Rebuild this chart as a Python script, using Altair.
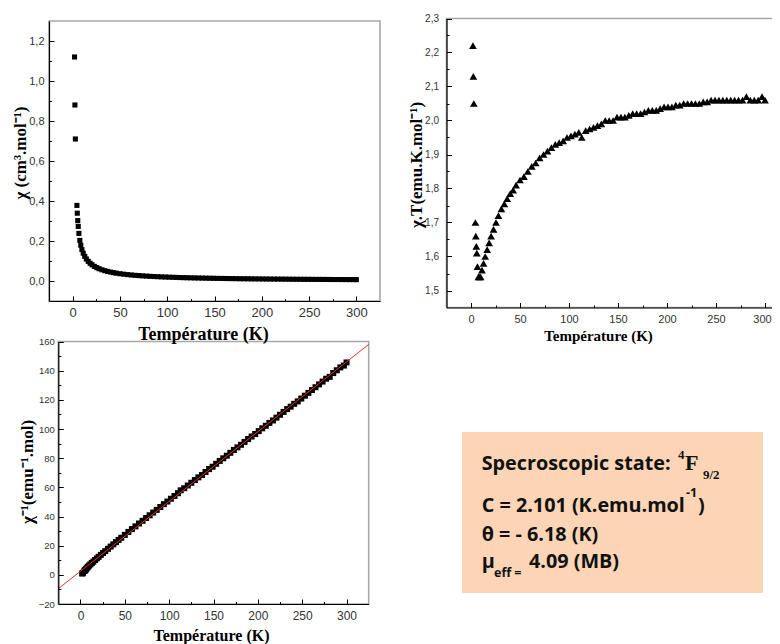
import altair as alt
import pandas as pd

W, H = 764, 636

# ---------------- data ----------------
temperature = [2.0, 2.4, 2.9, 4.5, 4.9, 5.4, 5.9, 6.6, 7.6, 8.6,
               9.8, 11.2, 12.8, 14.5, 16.5, 18.5, 20.5, 23, 25.5, 28,
               31, 34, 37, 40, 43, 46, 50, 54, 58, 62,
               66, 70, 74, 78, 82, 86, 90, 94, 98, 102,
               106, 110, 113, 117, 121, 125, 129, 133, 137, 141,
               145, 149, 153, 157, 161, 165, 169, 173, 177, 181,
               185, 189, 193, 197, 201, 205, 209, 213, 217, 221,
               225, 229, 233, 237, 241, 245, 249, 253, 257, 261,
               265, 269, 273, 277, 281, 285, 289, 293, 297, 300]

chi = [1.12, 0.88, 0.71, 0.378, 0.339, 0.302, 0.273, 0.238, 0.203, 0.179,
       0.157, 0.139, 0.123, 0.110, 0.0982, 0.0886, 0.0810, 0.0730, 0.0667, 0.0614,
       0.0561, 0.0516, 0.0478, 0.0446, 0.0417, 0.0393, 0.0365, 0.0340, 0.0319, 0.0301,
       0.0284, 0.0270, 0.0257, 0.0245, 0.0234, 0.0224, 0.0215, 0.0206, 0.0199, 0.0192,
       0.0185, 0.0179, 0.0173, 0.0168, 0.0163, 0.0158, 0.0154, 0.0150, 0.0146, 0.0142,
       0.0138, 0.0135, 0.0131, 0.0128, 0.0125, 0.0122, 0.0120, 0.0117, 0.0114, 0.0112,
       0.0110, 0.0107, 0.0105, 0.0104, 0.0101, 0.0100, 0.0098, 0.0096, 0.0094, 0.0093,
       0.0091, 0.0090, 0.0088, 0.0087, 0.0085, 0.0084, 0.0083, 0.0081, 0.0080, 0.0079,
       0.0078, 0.0077, 0.0075, 0.0074, 0.0074, 0.0072, 0.0071, 0.0070, 0.0070, 0.0069]

chi_t = [2.22, 2.13, 2.05, 1.70, 1.66, 1.63, 1.61, 1.57, 1.54, 1.54,
         1.54, 1.56, 1.58, 1.60, 1.62, 1.64, 1.66, 1.68, 1.70, 1.72,
         1.74, 1.755, 1.77, 1.785, 1.795, 1.81, 1.825, 1.835, 1.85, 1.865,
         1.875, 1.89, 1.90, 1.91, 1.92, 1.93, 1.935, 1.94, 1.95, 1.955,
         1.96, 1.965, 1.95, 1.97, 1.975, 1.98, 1.985, 1.99, 2.00, 2.00,
         2.00, 2.01, 2.01, 2.01, 2.015, 2.02, 2.02, 2.02, 2.025, 2.03,
         2.03, 2.03, 2.035, 2.04, 2.04, 2.04, 2.045, 2.045, 2.05, 2.05,
         2.05, 2.05, 2.05, 2.055, 2.055, 2.06, 2.06, 2.06, 2.06, 2.06,
         2.06, 2.06, 2.06, 2.06, 2.07, 2.06, 2.06, 2.06, 2.07, 2.06]

inv_chi = [0.90, 1.13, 1.41, 2.65, 2.95, 3.31, 3.66, 4.20, 4.94, 5.58,
           6.36, 7.18, 8.10, 9.06, 10.19, 11.28, 12.35, 13.69, 15.00, 16.28,
           17.82, 19.37, 20.90, 22.41, 23.96, 25.41, 27.40, 29.43, 31.35, 33.24,
           35.20, 37.04, 38.95, 40.84, 42.71, 44.56, 46.51, 48.45, 50.26, 52.17,
           54.08, 55.98, 57.95, 59.39, 61.27, 63.13, 64.99, 66.83, 68.50, 70.50,
           72.50, 74.13, 76.12, 78.11, 79.90, 81.68, 83.66, 85.64, 87.41, 89.16,
           91.13, 93.10, 94.84, 96.57, 98.53, 100.49, 102.20, 104.16, 105.85, 107.80,
           109.76, 111.71, 113.66, 115.33, 117.27, 118.93, 120.87, 122.82, 124.76, 126.70,
           128.64, 130.58, 132.52, 134.47, 135.75, 138.35, 140.29, 142.23, 143.48, 145.63]

fit_t = [-25, 325]
fit_inv = [-9.5, 158.0]

x_major = [0, 50, 100, 150, 200, 250, 300]
x_minor = [25, 75, 125, 175, 225, 275]
p1_y_major = [0.0, 0.2, 0.4, 0.6, 0.8, 1.0, 1.2]
p1_y_minor = [0.1, 0.3, 0.5, 0.7, 0.9, 1.1]
p2_y_major = [1.5, 1.6, 1.7, 1.8, 1.9, 2.0, 2.1, 2.2, 2.3]
p2_y_minor = [1.55, 1.65, 1.75, 1.85, 1.95, 2.05, 2.15, 2.25]
p3_y_major = [-20, 0, 20, 40, 60, 80, 100, 120, 140, 160]
p3_y_minor = [-10, 10, 30, 50, 70, 90, 110, 130, 150]

x_title = "Température (K)"
p1_y_title = "χ (cm³.mol⁻¹)"
p2_y_title = "χ.T(emu.K.mol⁻¹)"
p3_y_title = "χ⁻¹(emu⁻¹.mol)"

COMMA_EXPR = "replace(format(datum.value, '.1f'), '.', ',')"

# ---------------- panel geometry ----------------
g1 = dict(xd=[-25, 325], xr=[41, 372], yd=[-0.1, 1.3], yr=[293, 13],
          xmaj=x_major, xmin=x_minor, ymaj=p1_y_major, ymin=p1_y_minor,
          ytitle=p1_y_title, yexpr=COMMA_EXPR, xoff=0,
          xt=(195, 38, 18), yt=(13, 145, 17), xlab=(13, 5), ylab=(11, 5))
g2 = dict(xd=[-25, 325], xr=[438.5, 781.5], yd=[1.45, 2.3], yr=[299.5, 10.5],
          xmaj=x_major, xmin=x_minor, ymaj=p2_y_major, ymin=p2_y_minor,
          ytitle=p2_y_title, yexpr=COMMA_EXPR, xoff=-3,
          xt=(590, 32.5, 15), yt=(409, 157, 17), xlab=(11, 6), ylab=(10, 8))
g3 = dict(xd=[-25, 325], xr=[50.3, 360.7], yd=[-20, 160], yr=[596, 333.5],
          xmaj=x_major, xmin=x_minor, ymaj=p3_y_major, ymin=p3_y_minor,
          ytitle=p3_y_title, yexpr="format(datum.value, 'd')", xoff=0,
          xt=(203, 36, 16), yt=(20, 464, 17), xlab=(12, 6), ylab=(9.5, 4))


def sx(g):
    return alt.Scale(domain=g["xd"], range=g["xr"], nice=False, zero=False)


def sy(g):
    return alt.Scale(domain=g["yd"], range=g["yr"], nice=False, zero=False)


def frame(g):
    df = pd.DataFrame({"x0": [g["xd"][0]], "x1": [g["xd"][1]],
                       "y0": [g["yd"][0]], "y1": [g["yd"][1]]})
    return alt.Chart(df).mark_rect(fillOpacity=0, stroke="#a8a8a8", strokeWidth=1.6).encode(
        x=alt.X("x0:Q", scale=sx(g), axis=None), x2="x1",
        y=alt.Y("y0:Q", scale=sy(g), axis=None), y2="y1")


def axes(g):
    base = pd.DataFrame({"x": [g["xd"][0]], "y": [g["yd"][0]]})
    ax_y = g["yr"][0]
    ax_x = g["xr"][0]
    main = alt.Chart(base).mark_point(opacity=0).encode(
        x=alt.X("x:Q", scale=sx(g), title=x_title, axis=alt.Axis(
            orient="bottom", offset=ax_y - H, values=g["xmaj"], format="d",
            ticks=False, tickSize=0, labelPadding=g["xlab"][1],
            labelOffset={"condition": {"test": "datum.value == 300", "value": g["xoff"]}, "value": 0},
            labelFont="Liberation Sans", labelFontSize=g["xlab"][0], labelColor="#333333",
            labelOverlap=False, labelFlush=False,
            domainColor="black", domainWidth=1.2,
            titleFont="Liberation Serif", titleFontWeight="bold", titleFontSize=g["xt"][2],
            titleColor="black", titleX=g["xt"][0], titleY=g["xt"][1],
            titleAlign="center", titleBaseline="alphabetic", zindex=2)),
        y=alt.Y("y:Q", scale=sy(g), title="", axis=alt.Axis(
            orient="left", offset=-ax_x, values=g["ymaj"], labelExpr=g["yexpr"],
            ticks=False, tickSize=0, labelPadding=g["ylab"][1],
            labelFont="Liberation Sans", labelFontSize=g["ylab"][0], labelColor="#333333",
            labelOverlap=False, labelFlush=False,
            domainColor="black", domainWidth=1.2, zindex=2)))
    layers = [main]
    for xs, ys, size in ((g["xmaj"], g["ymaj"], 5), (g["xmin"], g["ymin"], 2.5)):
        layers.append(alt.Chart(base).mark_point(opacity=0).encode(
            x=alt.X("x:Q", scale=sx(g), title="", axis=alt.Axis(
                orient="top", offset=-ax_y, values=xs, labels=False, domain=False,
                tickSize=size, tickColor="black", tickWidth=1, zindex=2)),
            y=alt.Y("y:Q", scale=sy(g), title="", axis=alt.Axis(
                orient="right", offset=ax_x - W, values=ys, labels=False, domain=False,
                tickSize=size, tickColor="black", tickWidth=1, zindex=2))))
    # rotated y-axis title
    layers.append(alt.Chart(pd.DataFrame({"v": [0]})).mark_text(
        text=g["ytitle"], angle=270, align="center", baseline="middle",
        font="Liberation Serif", fontWeight="bold", fontSize=g["yt"][2], color="black"
    ).encode(x=alt.value(g["yt"][0]), y=alt.value(g["yt"][1])))
    return layers


df_main = pd.DataFrame({"T": temperature, "chi": chi, "chiT": chi_t, "inv": inv_chi})
df_fit = pd.DataFrame({"T": fit_t, "inv": fit_inv})

p1_pts = alt.Chart(df_main).mark_square(size=26, color="black", opacity=1).encode(
    x=alt.X("T:Q", scale=sx(g1), axis=None), y=alt.Y("chi:Q", scale=sy(g1), axis=None))
p2_pts = alt.Chart(df_main).mark_point(shape="triangle-up", filled=True, size=60,
                                       color="black", opacity=1).encode(
    x=alt.X("T:Q", scale=sx(g2), axis=None), y=alt.Y("chiT:Q", scale=sy(g2), axis=None))
p3_pts = alt.Chart(df_main).mark_square(size=36, color="black", opacity=1).encode(
    x=alt.X("T:Q", scale=sx(g3), axis=None), y=alt.Y("inv:Q", scale=sy(g3), axis=None))
p3_fit = alt.Chart(df_fit).mark_line(color="#e0302a", strokeWidth=1).encode(
    x=alt.X("T:Q", scale=sx(g3), axis=None), y=alt.Y("inv:Q", scale=sy(g3), axis=None))

# ---------------- annotation box ----------------
dummy = pd.DataFrame({"v": [0]})
box = alt.Chart(dummy).mark_rect(color="#FBD5B5").encode(
    x=alt.value(454), x2=alt.value(755), y=alt.value(424), y2=alt.value(585))

BOX_FONT = "Open Sans"
FS = 19.8


def txt(s, x, y, size, font=BOX_FONT):
    return alt.Chart(dummy).mark_text(text=s, align="left", baseline="alphabetic",
                                      font=font, fontSize=size, fontWeight="bold",
                                      color="#111111").encode(x=alt.value(x), y=alt.value(y))


texts = [
    txt("Specroscopic state:", 473.7, 462, FS),
    txt("4", 670, 451, 13, "Liberation Serif"),
    txt("F", 677, 462, 22, "Liberation Serif"),
    txt("9/2", 695, 471, 13, "Liberation Serif"),
    txt("C = 2.101 (K.emu.mol", 473.7, 503.7, FS),
    txt("-1", 678, 489, 12.5),
    txt(")", 690, 503.7, FS),
    txt("θ = - 6.18 (K)", 473.7, 532.7, FS),
    txt("μ", 473.7, 560.3, FS),
    txt("eff =", 486, 568.7, 12.5),
    txt("4.09 (MB)", 521, 560.3, FS),
]

layers = ([frame(g1), frame(g2), frame(g3), p1_pts, p2_pts, p3_pts, p3_fit]
          + axes(g1) + axes(g2) + axes(g3) + [box] + texts)

chart = alt.layer(*layers).resolve_scale(x="independent", y="independent").properties(
    width=W, height=H, padding=0, autosize=alt.AutoSizeParams(type="none"),
).configure_view(strokeWidth=0).configure_axis(grid=False)

chart.save("out.html", embed_options={"renderer": "svg", "actions": False})
